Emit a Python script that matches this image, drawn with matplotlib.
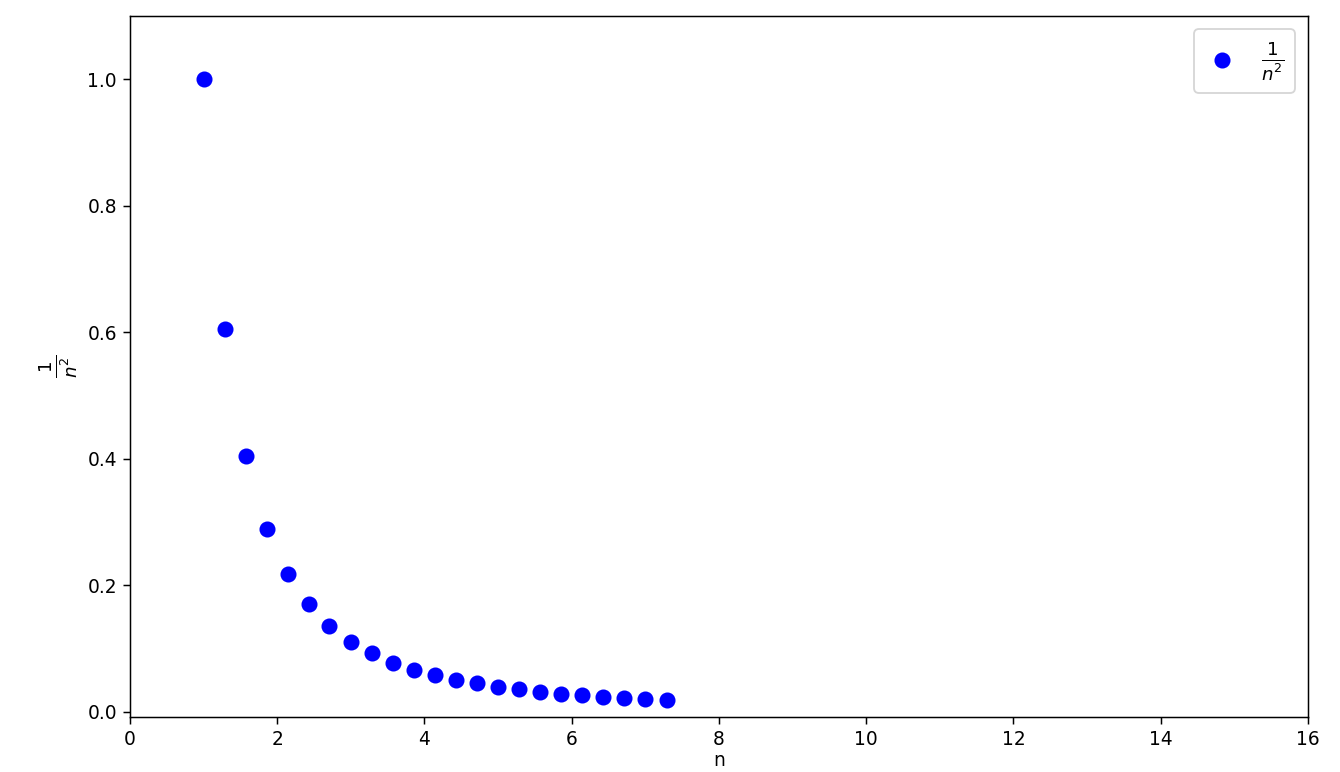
import matplotlib
matplotlib.use("Agg")
import matplotlib.pyplot as plt

# n values and 1/n^2 values
n_vals = [1.00, 1.29, 1.57, 1.86, 2.14, 2.43, 2.71, 3.00, 3.29, 3.57, 3.86, 4.14,
          4.43, 4.71, 5.00, 5.29, 5.57, 5.86, 6.14, 6.43, 6.71, 7.00, 7.29]
inv_sq = [1.000, 0.605, 0.405, 0.289, 0.218, 0.170, 0.136, 0.111, 0.093, 0.078,
          0.067, 0.058, 0.051, 0.045, 0.040, 0.036, 0.032, 0.029, 0.026, 0.024,
          0.022, 0.020, 0.019]

# 10in wide at 134 dpi -> 1340 px; height chosen for 772 px
fig = plt.figure(figsize=(10, 772 / 134), dpi=134)
ax = fig.add_axes([0.097, 55 / 772, 0.879, 701 / 772])

ax.scatter(n_vals, inv_sq, s=58, c="blue", label=r"$\frac{1}{n^2}$", zorder=3)

ax.set_xlim(0, 16)
ax.set_ylim(-0.008, 1.1)
ax.set_xlabel("n", labelpad=1)
ax.set_ylabel(r"$\frac{1}{n^2}$", fontsize=14)
ax.legend(loc="upper right", fontsize=14, handlelength=1.4)

fig.savefig("out.png", dpi=134)
